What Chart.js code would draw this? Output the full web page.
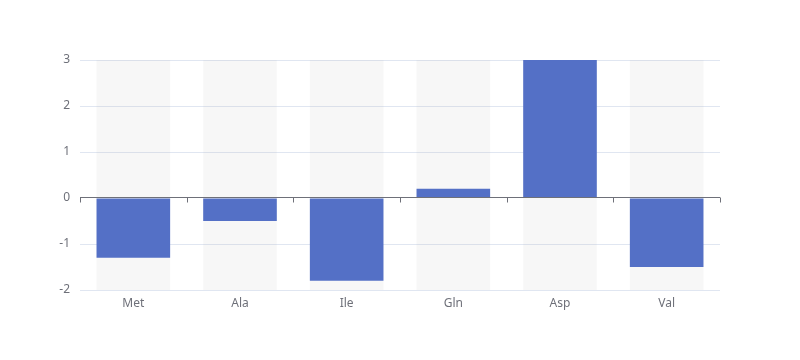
<!DOCTYPE html>
<html>
<head>
<meta charset="utf-8">
<script src="https://cdn.jsdelivr.net/npm/chart.js@4/dist/chart.umd.min.js"></script>
<style>
  html, body { margin: 0; padding: 0; background: #fff; }
  #wrap { width: 800px; height: 360px; }
</style>
</head>
<body>
<div id="wrap"><canvas id="chart"></canvas></div>
<script>
// data
const categories = ['Met', 'Ala', 'Ile', 'Gln', 'Asp', 'Val'];
const values = [-1.3, -0.5, -1.8, 0.2, 3, -1.5];
const yMin = -2;
const yMax = 3;

const axisColor = '#6e7079';
Chart.defaults.font.family = "'Noto Sans', sans-serif";

// zero axis line + category ticks, drawn over the bars
const zeroAxis = {
    id: 'zeroAxis',
    afterDatasetsDraw(chart) {
        const { ctx, chartArea, scales } = chart;
        const y0 = Math.round(scales.y.getPixelForValue(0)) - 0.5;
        ctx.save();
        ctx.strokeStyle = axisColor;
        ctx.lineWidth = 1;
        ctx.beginPath();
        ctx.moveTo(chartArea.left, y0);
        ctx.lineTo(chartArea.right, y0);
        const step = (chartArea.right - chartArea.left) / categories.length;
        for (let i = 0; i <= categories.length; i++) {
            const x = Math.round(scales.x.getPixelForValue(i) - step / 2) + 0.5;
            ctx.moveTo(x, y0);
            ctx.lineTo(x, y0 + 5);
        }
        ctx.stroke();
        ctx.restore();
    }
};

new Chart(document.getElementById('chart'), {
    type: 'bar',
    data: {
        labels: categories,
        datasets: [
            {
                data: values,
                backgroundColor: '#5470c6',
                categoryPercentage: 0.69,
                barPercentage: 1,
                grouped: false,
                order: 1
            },
            {
                data: categories.map(() => [yMin, yMax]),
                backgroundColor: 'rgba(180,180,180,0.1)',
                categoryPercentage: 0.69,
                barPercentage: 1,
                grouped: false,
                order: 2
            }
        ]
    },
    options: {
        responsive: true,
        maintainAspectRatio: false,
        animation: false,
        layout: { padding: { top: 60, right: 80, left: 0, bottom: 0 } },
        plugins: {
            legend: { display: false },
            tooltip: { enabled: false }
        },
        scales: {
            x: {
                grid: { display: false },
                border: { display: false },
                ticks: { color: axisColor, font: { size: 12 }, padding: -2 },
                afterFit(scale) { scale.height = 70; }
            },
            y: {
                min: yMin,
                max: yMax,
                grid: {
                    drawTicks: false,
                    color: ctx => ctx.tick && ctx.tick.value === 0 ? 'rgba(0,0,0,0)' : '#e0e6f1'
                },
                border: { display: false },
                ticks: { stepSize: 1, color: axisColor, font: { size: 12 }, padding: 10 },
                afterFit(scale) { scale.width = 80; }
            }
        }
    },
    plugins: [zeroAxis]
});
</script>
</body>
</html>
